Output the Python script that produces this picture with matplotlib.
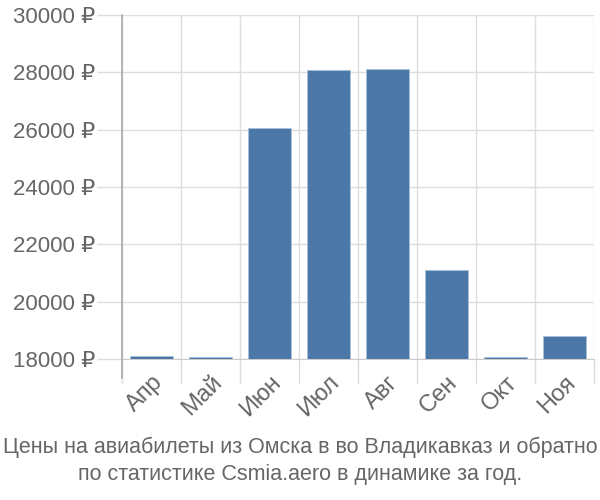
import matplotlib
matplotlib.use("Agg")
import matplotlib.pyplot as plt
import numpy as np

months = ["Апр", "Май", "Июн", "Июл", "Авг", "Сен", "Окт", "Ноя"]
prices = [18100, 18070, 26050, 28070, 28110, 21100, 18070, 18800]
yticks = [18000, 20000, 22000, 24000, 26000, 28000, 30000]
title = "Цены на авиабилеты из Омска в во Владикавказ и обратно\nпо статистике Csmia.aero в динамике за год."

plt.rcParams['font.family'] = ['Liberation Sans', 'DejaVu Sans']

fig = plt.figure(figsize=(6, 5), dpi=100)
ax = fig.add_axes([122/600, 1-359/500, (594-122)/600, (359-15)/500])

x = np.arange(len(months))
ax.bar(x, prices, width=0.72, color='#4c78a8', edgecolor='#a9c0da', linewidth=0.6, zorder=3)

ax.set_xlim(-0.5, len(months)-0.5)
ax.set_ylim(18000, 30000)
ax.set_yticks(yticks)
ax.set_yticklabels([f"{v} ₽" for v in yticks], fontsize=16, color='#666666')
ax.set_xticks(np.arange(len(months)+1) - 0.5, minor=False)
ax.set_xticklabels([])
ax.set_xticks(x, minor=True)
ax.set_xticklabels(months, minor=True, rotation=45, ha='right', rotation_mode='anchor', fontsize=17, color='#666666')
ax.tick_params(axis='x', which='major', length=18, color='#dddddd', width=1)
ax.tick_params(axis='x', which='minor', length=0, pad=9)
ax.tick_params(axis='y', length=18, color='#dddddd', width=1, pad=1)

ax.grid(True, which='major', color='#dddddd', linewidth=1, zorder=0)
for s in ['top', 'right', 'left']:
    ax.spines[s].set_visible(False)
ax.spines['bottom'].set_color('#cccccc')
ax.plot([0, 0], [-19/344, 1], transform=ax.transAxes, color='#aaaaaa', linewidth=1.2, clip_on=False, zorder=4)

fig.text(0.5, 1-461/500, title, ha='center', va='center', fontsize=15.5, color='#666666', linespacing=1.4)

fig.savefig("out.png", dpi=100)
